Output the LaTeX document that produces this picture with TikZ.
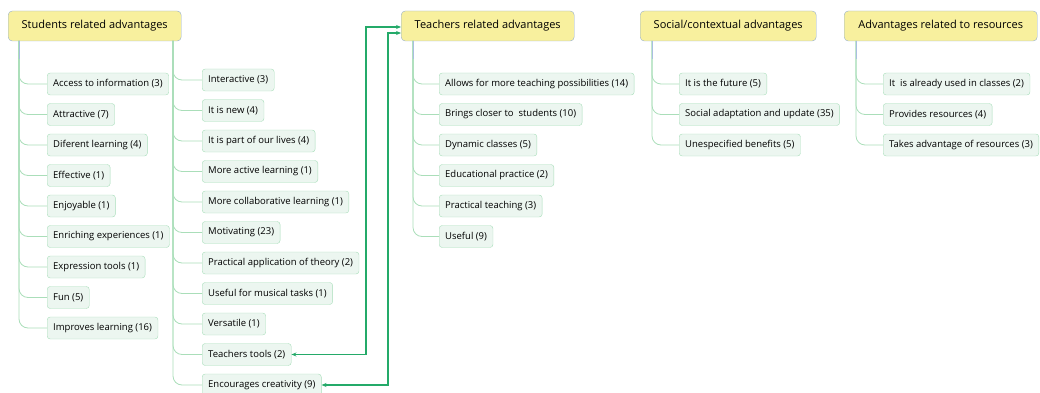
\documentclass[tikz,border=0pt]{standalone}
\usepackage{fontspec}
\setmainfont{Open Sans}
\usetikzlibrary{arrows.meta}
\definecolor{rootfill}{RGB}{248,240,158}
\definecolor{rootline}{RGB}{150,175,205}
\definecolor{leaffill}{RGB}{236,246,240}
\definecolor{leafline}{RGB}{168,222,186}
\definecolor{branchline}{RGB}{170,222,185}
\definecolor{stemline}{RGB}{170,190,225}
\definecolor{linkgreen}{RGB}{36,170,105}
\tikzset{
  topic/.style={draw=rootline, fill=rootfill, rounded corners=4pt, minimum height=30pt,
    font=\fontsize{11}{13}\selectfont, anchor=west},
  leaf/.style={draw=leafline, fill=leaffill, rounded corners=3pt, minimum height=22pt,
    inner xsep=6pt, font=\fontsize{9.5}{11}\selectfont, anchor=west},
  branch/.style={draw=branchline, line width=0.8pt, rounded corners=9pt},
  stem/.style={draw=stemline, line width=0.8pt},
  link/.style={draw=linkgreen, line width=1.3pt,
    {Stealth[length=5pt,width=4pt]}-{Stealth[length=5pt,width=4pt]}}
}

\begin{document}
\begin{tikzpicture}[x=1pt,y=-1pt]
        \useasboundingbox (0,0) rectangle (1040,393);
        % main topics
        \node[topic, minimum width=173pt] (stu) at (8,26) {Students related advantages};
        \node[topic, minimum width=173pt] (tea) at (401,26) {Teachers related advantages};
        \node[topic, minimum width=176pt] (soc) at (640,26) {Social/contextual advantages};
        \node[topic, minimum width=193pt] (res) at (844,26) {Advantages related to resources};
        \coordinate (stuA) at (19,41); \coordinate (stuB) at (173,41);
        \coordinate (teaA) at (413,41); \coordinate (socA) at (652,41);
        \coordinate (resA) at (856,41);
        % students, first column
        \foreach \txt [count=\i] in {Access to information (3), Attractive (7),
            Diferent learning (4), Effective (1), Enjoyable (1),
            Enriching experiences (1), Expression tools (1), Fun (5),
            Improves learning (16)} {
          \node[leaf] (sa\i) at (47,{84+30.5*(\i-1)}) {\txt};
          \draw[branch] (stuA) |- (sa\i.west);
        }
        % students, second column
        \foreach \txt [count=\i] in {Interactive (3), It is new (4),
            It is part of our lives (4), More active learning (1),
            More collaborative learning (1), Motivating (23),
            Practical application of theory (2), Useful for musical tasks (1),
            Versatile (1), Teachers tools (2), Encourages creativity (9)} {
          \node[leaf] (sb\i) at (202,{80+30.5*(\i-1)}) {\txt};
          \draw[branch] (stuB) |- (sb\i.west);
        }
        % teachers
        \foreach \txt [count=\i] in {Allows for more teaching possibilities (14),
            Brings closer to\ \ students (10), Dynamic classes (5),
            Educational practice (2), Practical teaching (3), Useful (9)} {
          \node[leaf] (ta\i) at (439,{84+30.5*(\i-1)}) {\txt};
          \draw[branch] (teaA) |- (ta\i.west);
        }
        % social
        \foreach \txt [count=\i] in {It is the future (5),
            Social adaptation and update (35), Unespecified benefits (5)} {
          \node[leaf] (so\i) at (679,{84+30.5*(\i-1)}) {\txt};
          \draw[branch] (socA) |- (so\i.west);
        }
        % resources
        \foreach \txt [count=\i] in {It\ \ is already used in classes (2),
            Provides resources (4), Takes advantage of resources (3)} {
          \node[leaf] (ra\i) at (883,{84+30.5*(\i-1)}) {\txt};
          \draw[branch] (resA) |- (ra\i.west);
        }
        \draw[stem] (stuA) -- ++(0,18);
        \draw[stem] (teaA) -- ++(0,18);
        \draw[stem] (socA) -- ++(0,18);
        \draw[stem] (resA) -- ++(0,18);
        % cross links
        \coordinate (j1) at (366,27); \coordinate (j2) at (388,33);
        \draw[link] (sb10.east) -| (j1) -- (tea.west |- j1);
        \draw[link] (sb11.east) -| (j2) -- (tea.west |- j2);
    \end{tikzpicture}
\end{document}
